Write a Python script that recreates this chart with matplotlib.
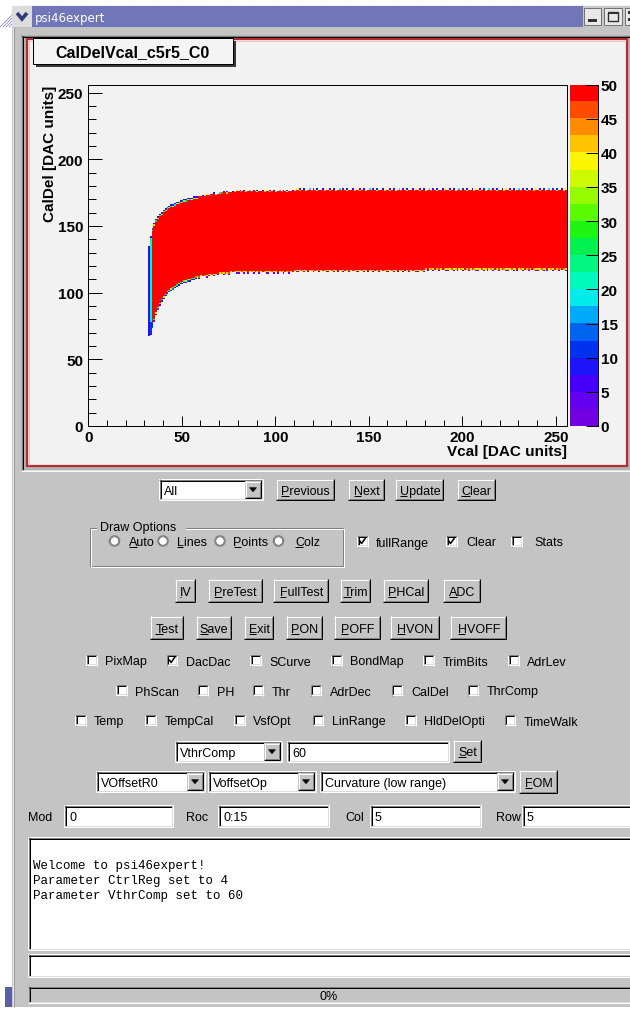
import numpy as np
import matplotlib
matplotlib.use("Agg")
import matplotlib.pyplot as plt
from matplotlib.patches import Rectangle, Circle, Polygon
from matplotlib.colors import ListedColormap, BoundaryNorm
from matplotlib.textpath import TextPath
from matplotlib.font_manager import FontProperties

# ---------------- histogram content: CalDel vs Vcal ----------------
n_bins = 256
band_count = 50

# per-column band edges in the rising part (Vcal 32..79)
vcal_curve = list(range(32, 80))
low_curve = [68, 69, 74, 79, 84, 88, 91, 94, 96, 98,
             100, 101, 102, 103, 104, 105, 106, 107, 107, 108,
             108, 109, 109, 110, 110, 111, 111, 111, 112, 112,
             112, 112, 113, 113, 113, 113, 113, 114, 114, 114,
             114, 114, 114, 114, 115, 115, 115, 115]
high_curve = [133, 140, 146, 150, 153, 155, 157, 158, 160, 161,
              162, 163, 164, 164, 165, 166, 166, 167, 167, 168,
              168, 169, 169, 169, 170, 170, 170, 171, 171, 171,
              172, 172, 172, 172, 173, 173, 173, 173, 173, 174,
              174, 174, 174, 174, 174, 174, 175, 175]

# flat part of the band
plateau_from = [80, 110, 180]
plateau_to = [109, 179, 255]
plateau_low = [115, 116, 117]
plateau_high = [175, 176, 176]

# counts in the first columns and the tip of the band
first_column_count = 8
second_column_count = 22
tip_count = 11
tip_top = 77

# counts on the band border (outer = outside bin, inner = edge bin)
outer_rim_curve = [9, 6, 11, 4, 8, 13, 7, 10]
inner_rim_curve = [33, 27, 38, 22, 36, 30, 40, 25]
outer_rim_top = [0, 3, 0, 8, 0, 0, 18, 0, 2, 0, 12, 0, 0, 5, 0, 38]
inner_rim_top = [50, 42, 50, 50, 38, 50, 50, 45, 50, 50, 36, 50, 50, 50, 40, 50]
outer_rim_bottom = [2, 0, 0, 4, 0, 1, 0, 0, 6, 0, 0, 3, 0, 0, 0, 2]
inner_rim_bottom = [40, 38, 45, 36, 42, 50, 39, 44, 37, 50, 41, 46, 38, 50, 43, 39]

# palette (20 contour levels, 0..50)
palette = [(115, 0, 225), (100, 0, 240), (70, 0, 250), (30, 20, 250),
           (0, 50, 240), (0, 100, 240), (0, 170, 250), (0, 235, 235),
           (0, 250, 190), (0, 245, 130), (0, 240, 80), (30, 245, 20),
           (90, 250, 0), (150, 250, 0), (205, 250, 0), (250, 245, 0),
           (255, 195, 0), (255, 140, 0), (255, 75, 0), (255, 0, 0)]
palette_ticks = [0, 5, 10, 15, 20, 25, 30, 35, 40, 45, 50]
axis_ticks = [0, 50, 100, 150, 200, 250]

# ---------------- GUI text ----------------
window_title = "psi46expert"
hist_title = "CalDelVcal_c5r5_C0"
x_title = "Vcal [DAC units]"
y_title = "CalDel [DAC units]"
nav_buttons = ["Previous", "Next", "Update", "Clear"]
radio_labels = ["Auto", "Lines", "Points", "Colz"]
option_checks = [("fullRange", True), ("Clear", True), ("Stats", False)]
test_buttons = ["IV", "PreTest", "FullTest", "Trim", "PHCal", "ADC"]
power_buttons = ["Test", "Save", "Exit", "PON", "POFF", "HVON", "HVOFF"]
check_rows = [
    [("PixMap", False), ("DacDac", True), ("SCurve", False), ("BondMap", False), ("TrimBits", False), ("AdrLev", False)],
    [("PhScan", False), ("PH", False), ("Thr", False), ("AdrDec", False), ("CalDel", False), ("ThrComp", False)],
    [("Temp", False), ("TempCal", False), ("VsfOpt", False), ("LinRange", False), ("HldDelOpti", False), ("TimeWalk", False)],
]
log_lines = ["Welcome to psi46expert!",
             "Parameter CtrlReg set to 4",
             "Parameter VthrComp set to 60"]

# ---------------- build histogram ----------------
counts = np.zeros((n_bins, n_bins))
columns = list(zip(vcal_curve, low_curve, high_curve))
for a, b, lo, hi in zip(plateau_from, plateau_to, plateau_low, plateau_high):
    for v in range(a, b + 1):
        columns.append((v, lo, hi))

for k, (v, lo, hi) in enumerate(columns):
    counts[lo:hi + 1, v] = band_count
    if v < 58:
        ob = outer_rim_curve[k % len(outer_rim_curve)]
        ib = inner_rim_curve[k % len(inner_rim_curve)]
        ot = outer_rim_curve[(k + 3) % len(outer_rim_curve)]
        it = inner_rim_curve[(k + 5) % len(inner_rim_curve)]
    else:
        ob = outer_rim_bottom[k % len(outer_rim_bottom)]
        ib = inner_rim_bottom[k % len(inner_rim_bottom)]
        ot = outer_rim_top[k % len(outer_rim_top)]
        it = inner_rim_top[k % len(inner_rim_top)]
    counts[lo - 1, v] = ob
    counts[lo, v] = ib
    counts[hi + 1, v] = ot
    counts[hi, v] = it

counts[low_curve[0]:high_curve[0] + 1, vcal_curve[0]] = first_column_count
counts[low_curve[1]:high_curve[1] + 1, vcal_curve[1]] = second_column_count
for i in range(1, 4):
    lo = low_curve[i]
    counts[lo:tip_top + 1, vcal_curve[i]] = tip_count

# ---------------- figure ----------------
W, H = 630, 1012
fig = plt.figure(figsize=(W / 100, H / 100), dpi=100)
bg = fig.add_axes([0, 0, 1, 1])
bg.set_xlim(0, W)
bg.set_ylim(H, 0)
bg.axis("off")

GUI_BG = "#c4c4c4"
PX = 0.72
SANS = "Liberation Sans"
FS = 9


def fr(x0, y0, x1, y1):
    return [x0 / W, 1 - y1 / H, (x1 - x0) / W, (y1 - y0) / H]


def rect(x0, y0, x1, y1, fc, ec="none", lw=0, z=1):
    bg.add_patch(Rectangle((x0, y0), x1 - x0, y1 - y0, facecolor=fc,
                           edgecolor=ec, linewidth=lw, zorder=z))


def hline(x0, x1, y, c, lw=1, z=3):
    bg.plot([x0, x1], [y, y], color=c, lw=lw * PX, solid_capstyle="butt", zorder=z)


def vline(x, y0, y1, c, lw=1, z=3):
    bg.plot([x, x], [y0, y1], color=c, lw=lw * PX, solid_capstyle="butt", zorder=z)


def raised(x0, y0, x1, y1, fc=GUI_BG, z=3):
    rect(x0, y0, x1, y1, fc, z=z)
    hline(x0, x1, y0 + 0.5, "white", z=z + 0.1)
    vline(x0 + 0.5, y0, y1, "white", z=z + 0.1)
    hline(x0, x1, y1 - 0.5, "black", z=z + 0.1)
    vline(x1 - 0.5, y0, y1, "black", z=z + 0.1)
    hline(x0 + 1, x1 - 1, y1 - 1.5, "#808080", z=z + 0.1)
    vline(x1 - 1.5, y0 + 1, y1 - 1, "#808080", z=z + 0.1)


def sunken(x0, y0, x1, y1, fc="white", z=3):
    rect(x0, y0, x1, y1, fc, z=z)
    hline(x0, x1, y0 + 0.5, "#808080", z=z + 0.1)
    vline(x0 + 0.5, y0, y1, "#808080", z=z + 0.1)
    hline(x0 + 1, x1 - 1, y0 + 1.5, "black", z=z + 0.1)
    vline(x0 + 1.5, y0 + 1, y1 - 1, "black", z=z + 0.1)
    hline(x0, x1, y1 - 0.5, "white", z=z + 0.1)
    vline(x1 - 0.5, y0, y1, "white", z=z + 0.1)
    hline(x0 + 1, x1 - 1, y1 - 1.5, "#dcdcdc", z=z + 0.1)
    vline(x1 - 1.5, y0 + 1, y1 - 1, "#dcdcdc", z=z + 0.1)


def text_width(s, size=FS, family=SANS, weight="normal"):
    tp = TextPath((0, 0), s, size=size, prop=FontProperties(family=family, weight=weight))
    return tp.get_extents().width * 100 / 72


def label(x, yc, s, size=FS, ha="left", underline=False, z=5, family=SANS, color="black"):
    w = text_width(s, size, family)
    x0 = x if ha == "left" else x - w / 2
    base = yc + 0.36 * size * 100 / 72
    bg.text(x0, base, s, fontsize=size, family=family, ha="left", va="baseline",
            color=color, zorder=z)
    if underline:
        w1 = text_width(s[0], size, family)
        hline(x0, x0 + w1 + 0.5, base + 1.5, color, z=z)


def button(x0, y0, x1, y1, s):
    raised(x0, y0, x1, y1)
    label((x0 + x1) / 2, (y0 + y1) / 2, s, ha="center", underline=True)


def arrow_box(x0, y0, x1, y1):
    raised(x0, y0, x1, y1, z=4)
    cx, cy = (x0 + x1) / 2, (y0 + y1) / 2
    bg.add_patch(Polygon([[cx - 3.5, cy - 1.8], [cx + 3.5, cy - 1.8], [cx, cy + 2.2]],
                         closed=True, facecolor="black", edgecolor="black",
                         linewidth=0.4, zorder=5))


def combo(x0, y0, x1, y1, s):
    sunken(x0, y0, x1, y1)
    label(x0 + 5, (y0 + y1) / 2, s)
    arrow_box(x1 - 18, y0 + 2, x1 - 2, y1 - 2)


def field(x0, y0, x1, y1, s=""):
    sunken(x0, y0, x1, y1)
    if s:
        label(x0 + 5, (y0 + y1) / 2, s)


def checkbox(x, yc, checked):
    sunken(x, yc - 5.5, x + 11, yc + 5.5, z=4)
    if checked:
        bg.plot([x + 2.5, x + 4.5, x + 8.5], [yc - 0.5, yc + 2.5, yc - 3],
                color="black", lw=1.6 * PX, zorder=6, solid_capstyle="butt")


def radio(x, yc):
    bg.add_patch(Circle((x, yc), 5.2, facecolor="white", edgecolor="#808080",
                        linewidth=1.2 * PX, zorder=4))
    bg.add_patch(Circle((x, yc), 4.2, facecolor="none", edgecolor="#404040",
                        linewidth=0.6 * PX, zorder=4.1))


def check_row(items, x_start, x_end, yc, text_offset=19):
    # evenly spaced check buttons between the first box and the end of the last label
    widths = [text_width(s) for s, _ in items]
    used = sum(text_offset + w for w in widths)
    gap = (x_end - x_start - used) / (len(items) - 1)
    x = x_start
    for (s, chk), w in zip(items, widths):
        checkbox(x, yc, chk)
        label(x + text_offset, yc, s)
        x += text_offset + w + gap


# ---- window frame ----
rect(0, 0, W, H, "white", z=0)
rect(12, 28, W, 1008, GUI_BG, z=0.5)
vline(12.5, 28, 1008, "#e8e8e8", z=0.6)
vline(14, 28, 1008, "#9a9a9a", z=0.6)
rect(5, 988, 12, 1008, "#5a5fa8", z=0.6)

# title bar
rect(12, 7, 583, 28, "#6d72b6", z=0.7)
for xs in np.arange(0, 620, 3):
    bg.plot([xs, xs + 21], [28, 7], color="#7b80c0", lw=0.5, zorder=0.8)
rect(583, 7, W, 28, "#c8c8c8", z=0.9)
rect(12, 7, 32, 28, "#dcdcdc", z=0.9)
bg.plot([17, 22, 27], [14, 20, 14], color="#303a7a", lw=2.6, zorder=1,
        solid_capstyle="butt", solid_joinstyle="miter")
bg.text(35, 18, window_title, fontsize=8.5, family="DejaVu Sans", color="white",
        ha="left", va="center", zorder=1)
for bx0, bx1 in [(584, 601), (604, 622), (625, 635)]:
    rect(bx0, 9, bx1, 26, "#e8e8e8", ec="#707070", lw=0.7, z=1)
rect(588, 20, 597, 22.5, "#303030", z=1.1)
rect(608, 13, 618, 22, "none", ec="#303030", lw=1.0, z=1.1)
rect(608, 13, 618, 15, "#303030", z=1.1)
rect(628, 12, 632, 15, "#303030", z=1.1)
rect(628, 19, 632, 22, "#303030", z=1.1)

# ---- embedded canvas ----
sunken(21, 36, 632, 472, fc="#b4b4b4", z=1)
rect(27, 40, 627, 467, "#f2f2f2", ec="#b42c2c", lw=2.2 * PX, z=1.5)
hline(28, 626, 42.2, "#f3c0c0", z=1.6)
vline(29.2, 42, 466, "#f3c0c0", z=1.6)

# title box
rect(36, 42, 236, 68, "#3a3a3a", z=2)
rect(33, 39, 233, 65, "#f4f4f4", ec="black", lw=1 * PX, z=2.1)
bg.text(133, 52.5, hist_title, fontsize=11.5, family=SANS, weight="bold",
        ha="center", va="center", zorder=2.2)

# ---- histogram ----
cmap = ListedColormap([tuple(c / 255 for c in rgb) for rgb in palette])
cmap.set_over(cmap(cmap.N - 1))
levels = np.linspace(0, 50, len(palette) + 1)
norm = BoundaryNorm(levels, cmap.N)

ax = fig.add_axes(fr(88.3, 85.5, 567, 427))
ax.set_facecolor("#f2f2f2")
ax.imshow(np.ma.masked_equal(counts, 0), origin="lower", extent=[0, n_bins, 0, n_bins],
          cmap=cmap, norm=norm, interpolation="nearest", aspect="auto")
ax.set_xlim(0, n_bins)
ax.set_ylim(0, n_bins)
ax.set_xticks(axis_ticks)
ax.set_yticks(axis_ticks)
ax.set_xticks(np.arange(0, n_bins, 10), minor=True)
ax.set_yticks(np.arange(0, n_bins, 10), minor=True)
ax.tick_params(axis="x", which="major", direction="in", length=10 * PX, width=1 * PX,
               pad=4 * PX, labelsize=11, top=False)
ax.tick_params(axis="x", which="minor", direction="in", length=6 * PX, width=1 * PX, top=False)
ax.tick_params(axis="y", which="major", direction="in", length=14 * PX, width=1 * PX,
               pad=5 * PX, labelsize=11, right=False)
ax.tick_params(axis="y", which="minor", direction="in", length=8 * PX, width=1 * PX, right=False)
for t in ax.get_xticklabels() + ax.get_yticklabels():
    t.set_fontfamily(SANS)
    t.set_fontweight("bold")
for s in ax.spines.values():
    s.set_linewidth(1 * PX)
    s.set_color("black")

fig.text(567 / W, 1 - 452 / H, x_title, fontsize=11, family=SANS, weight="bold",
         ha="right", va="center")
fig.text(50 / W, 1 - 86 / H, y_title, fontsize=11, family=SANS, weight="bold",
         ha="center", va="top", rotation=90)

# palette axis
cax = fig.add_axes(fr(570, 85.5, 597.5, 427))
cax.imshow(np.array(levels[:-1] + 1.25).reshape(-1, 1), origin="lower",
           extent=[0, 1, 0, 50], cmap=cmap, norm=norm, aspect="auto",
           interpolation="nearest")
cax.set_xlim(0, 1)
cax.set_ylim(0, 50)
cax.set_xticks([])
cax.yaxis.tick_right()
cax.set_yticks(palette_ticks)
cax.tick_params(axis="y", direction="in", length=12 * PX, width=1 * PX, pad=3 * PX,
                labelsize=11, left=False, right=True)
for t in cax.get_yticklabels():
    t.set_fontfamily(SANS)
    t.set_fontweight("bold")
for side, s in cax.spines.items():
    s.set_visible(side == "right")
    s.set_linewidth(1 * PX)

# ---- navigation row ----
combo(159, 480, 263, 501, "All")
for (x0, x1), s in zip([(276, 334), (348, 384), (395, 443), (457, 495)], nav_buttons):
    button(x0, 480, x1, 501, s)

# ---- draw options ----
gx0, gy0, gx1, gy1 = 90, 529, 343, 567
for dx, c in [(0, "#808080"), (1, "white")]:
    rect(gx0 + dx, gy0 + dx, gx1 + dx, gy1 + dx, "none", ec=c, lw=1 * PX, z=3)
rect(97, 521, 186, 533, GUI_BG, z=3.5)
label(100, 526, "Draw Options")
for xc, xt, s in zip([114.5, 163, 220, 278.5], [128.5, 177, 233.5, 295], radio_labels):
    radio(xc, 542)
    label(xt, 542, s, underline=True)
for (s, chk), xc, xt in zip(option_checks, [357, 446, 511], [376, 466, 534]):
    checkbox(xc, 542, chk)
    label(xt, 542, s)

# ---- test buttons ----
for (x0, x1), s in zip([(175, 195), (208, 262), (273, 328), (340, 370), (383, 428), (443, 480)],
                       test_buttons):
    button(x0, 580, x1, 603, s)
for (x0, x1), s in zip([(150, 183), (196, 231), (244, 273), (286, 322), (334, 380),
                        (390, 439), (450, 506)], power_buttons):
    button(x0, 617, x1, 640, s)

# ---- check boxes ----
for row, (xs, xe), yc in zip(check_rows, [(86, 567), (116, 538), (75, 578)], [661, 691, 721]):
    check_row(row, xs, xe, yc)

# ---- parameter rows ----
combo(175, 742, 282, 763, "VthrComp")
field(287, 742, 449, 763, "60")
button(453, 741, 481, 763, "Set")

combo(96, 772, 205, 793, "VOffsetR0")
combo(208, 772, 316, 793, "VoffsetOp")
combo(320, 772, 515, 793, "Curvature (low range)")
button(519, 771, 557, 794, "FOM")

for lx, s, (x0, x1), v in zip([28, 186, 345, 496], ["Mod", "Roc", "Col", "Row"],
                              [(64, 173), (218, 329), (370, 481), (522, 633)],
                              ["0", "0:15", "5", "5"]):
    label(lx, 817, s)
    field(x0, 806, x1, 828, v)

# ---- log window, command line, progress ----
sunken(28, 838, 633, 951)
for i, s in enumerate(log_lines):
    bg.text(33, 866.5 + 15 * i, s, fontsize=9, family="Liberation Mono",
            ha="left", va="center", zorder=5)
sunken(28, 955, 633, 978)
sunken(28, 987, 633, 1004, fc=GUI_BG)
label(328, 995.5, "0%", ha="center")

fig.savefig("out.png", dpi=100)
